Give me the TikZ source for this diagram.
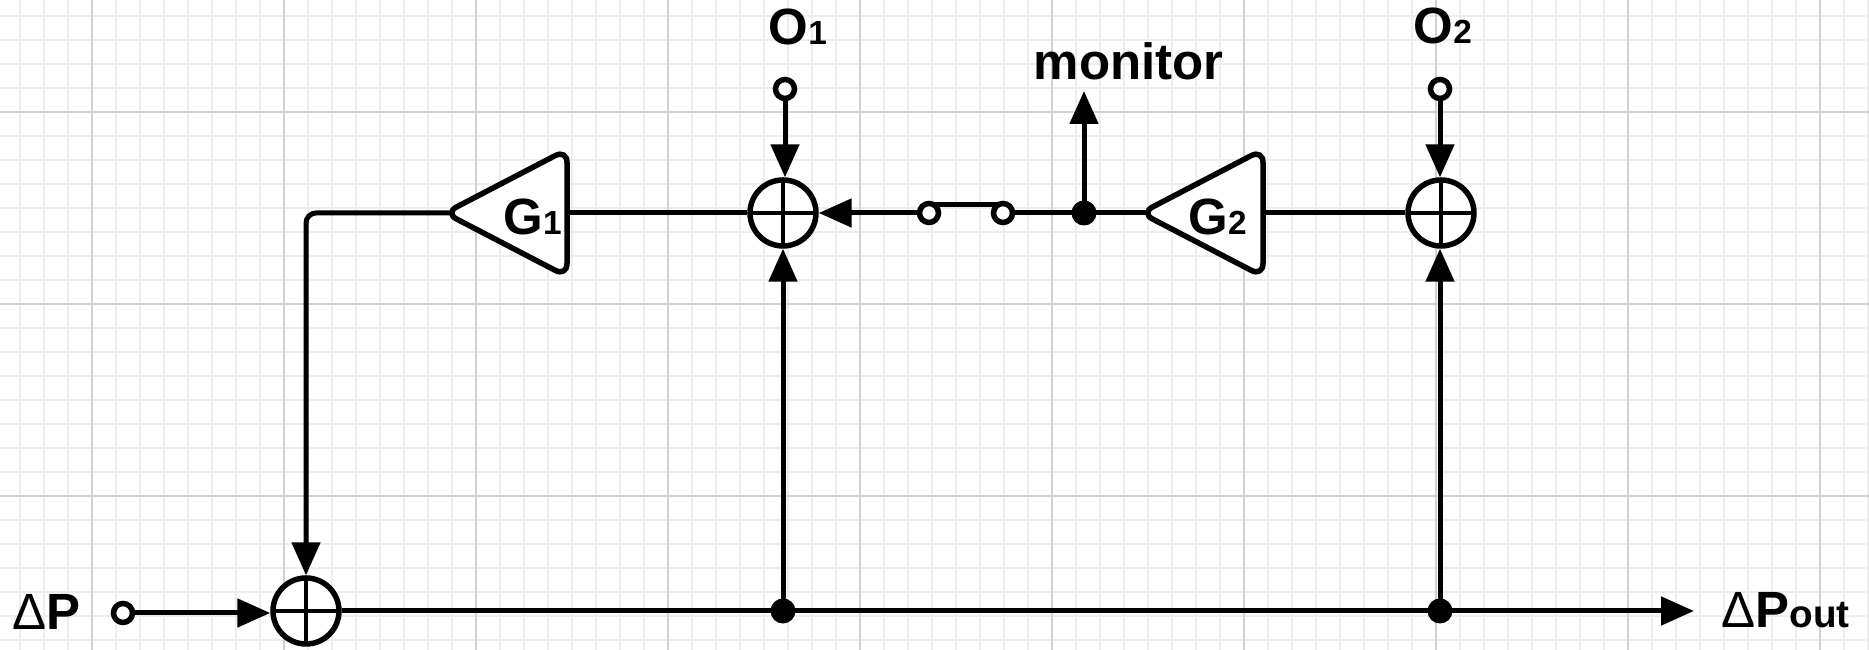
\documentclass[tikz,border=0pt]{standalone}
\usepackage{fontspec}
\setmainfont{Liberation Sans}
\usetikzlibrary{arrows.meta,shapes.geometric}
\tikzstyle{minor} = [draw=black!7, line width=0.15mm]
\tikzstyle{major} = [draw=black!18, line width=0.17mm]
\tikzstyle{con} = [black, line width=0.5mm]
\tikzstyle{arr} = [con, -{Triangle[length=3.3mm, width=2.8mm]}]
\tikzstyle{sum} = [circle, draw=black, fill=white, line width=0.55mm, inner sep=0pt, outer sep=0.27mm, minimum size=6.6mm,
	path picture={\draw[line width=0.45mm] (path picture bounding box.north) -- (path picture bounding box.south)
		(path picture bounding box.west) -- (path picture bounding box.east);}]
\tikzstyle{port} = [circle, draw=black, fill=white, line width=0.55mm, inner sep=0pt, outer sep=0pt, minimum size=1.9mm]
\tikzstyle{dot} = [circle, fill=black, inner sep=0pt, outer sep=-0.4mm, minimum size=2.5mm]
\tikzstyle{gain} = [isosceles triangle, isosceles triangle stretches, shape border rotate=180, anchor=apex, draw=black, fill=white,
	line width=0.55mm, rounded corners=1.3mm, inner sep=0pt, outer sep=0pt, minimum width=12.7mm, minimum height=12.2mm, font=\fontsize{14.5}{14.5}\selectfont\bfseries]
\tikzstyle{lbl} = [inner sep=0pt, anchor=base west, font=\fontsize{14.5}{14.5}\selectfont\bfseries]
\newcommand{\subtxt}[1]{{\fontsize{9.5}{9.5}\selectfont #1}}
\newcommand{\gaintxt}[2]{\raisebox{-2.2mm}[0pt][0pt]{\makebox[0pt][l]{\hspace*{#1}G\subtxt{#2}}}}

\begin{document}
\begin{tikzpicture}
		\useasboundingbox (0,0) rectangle (18.69,6.5);

		% grid
		\foreach \k in {0,...,77} \draw[minor] ({0.2+0.24*\k},0) -- ++(0,6.5);
		\foreach \k in {0,...,26} \draw[minor] (0,{6.34-0.24*\k}) -- ++(18.69,0);
		\foreach \k in {0,...,9} \draw[major] ({0.92+1.92*\k},0) -- ++(0,6.5);
		\foreach \k in {0,...,2} \draw[major] (0,{5.38-1.92*\k}) -- ++(18.69,0);

		\node[sum] (sumIn) at (3.06,0.39) {};
		\node[sum] (sumOne) at (7.83,4.37) {};
		\node[sum] (sumTwo) at (14.41,4.37) {};

		\node[port] (portIn) at (1.23,0.37) {};
		\node[port] (portOne) at (7.85,5.61) {};
		\node[port] (portTwo) at (14.40,5.61) {};
		\node[port] (swLeft) at (9.29,4.37) {};
		\node[port] (swRight) at (10.03,4.37) {};

		\node[dot] (tapOne) at (7.83,0.39) {};
		\node[dot] (tapTwo) at (14.40,0.39) {};
		\node[dot] (tapMon) at (10.84,4.37) {};

		\node[gain] (gainOne) at (4.45,4.37) {\gaintxt{-2.5mm}{1}};
		\node[gain] (gainTwo) at (11.41,4.37) {\gaintxt{-3.6mm}{2}};

		\coordinate (outEnd) at (16.94,0.39);
		\coordinate (monEnd) at (10.84,5.59);

		% connectors
		\draw[arr] (portIn) -- (portIn -| sumIn.west);
		\draw[arr, rounded corners=1mm, shorten <=-0.8mm] (gainOne.apex) -| (sumIn);
		\draw[con] (sumIn) -- (tapOne) -- (tapTwo);
		\draw[arr] (tapTwo) -- (outEnd);
		\draw[arr] (tapOne) -- (sumOne);
		\draw[arr] (tapTwo) -- (tapTwo |- sumTwo.south);
		\draw[arr] (portOne) -- (portOne |- sumOne.north);
		\draw[arr] (portTwo) -- (portTwo |- sumTwo.north);
		\draw[con] (gainOne.east) -- (sumOne);
		\draw[arr] (swLeft) -- (sumOne);
		\draw[con] (swLeft.60) -- (swRight.120);
		\draw[con] (swRight) -- (tapMon);
		\draw[con, shorten >=-0.8mm] (tapMon) -- (gainTwo.apex);
		\draw[arr] (tapMon) -- (monEnd);
		\draw[con] (gainTwo.east) -- (sumTwo);

		% labels
		\node[lbl] (lblIn) at (0.12,0.20) {{\mdseries Δ}P};
		\node[lbl] (lblOut) at (17.21,0.22) {{\mdseries Δ}P{\fontsize{11}{11}\selectfont out}};
		\node[lbl] (lblOne) at (7.68,6.05) {O\subtxt{1}};
		\node[lbl] (lblTwo) at (14.13,6.06) {O\subtxt{2}};
		\node[lbl] (lblMon) at (10.33,5.70) {monitor};
	\end{tikzpicture}
\end{document}
